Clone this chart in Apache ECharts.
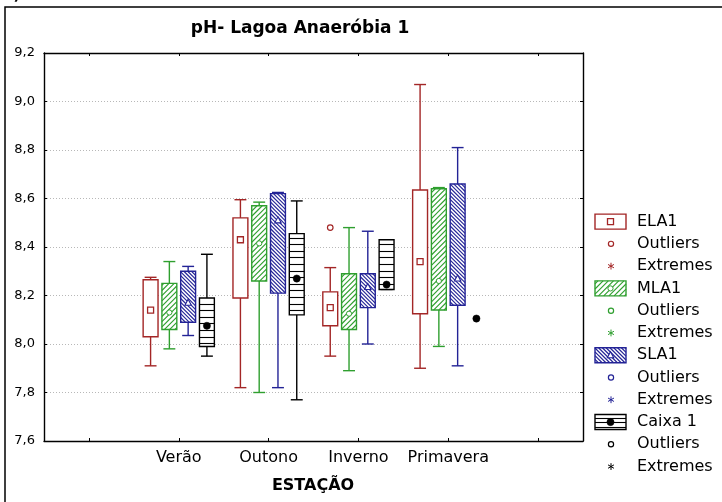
<!DOCTYPE html>
<html>
<head>
<meta charset="utf-8">
<script src="https://cdn.jsdelivr.net/npm/echarts@6/dist/echarts.min.js"></script>
<style>html,body{margin:0;padding:0;background:#fff;}#chart{width:722px;height:502px;}</style>
</head>
<body>
<div id="chart"></div>
<script>
// ---- data ----
const categories = ['', 'Verão', 'Outono', 'Inverno', 'Primavera', ''];
const seriesNames = ['ELA1', 'MLA1', 'SLA1', 'Caixa 1'];
// each row: [min, q1, median, q3, max] per season (Verão, Outono, Inverno, Primavera)
const ela1 = [[7.91, 8.03, 8.14, 8.265, 8.275], [7.82, 8.19, 8.43, 8.52, 8.595], [7.95, 8.075, 8.15, 8.215, 8.315], [7.90, 8.125, 8.34, 8.635, 9.07]];
const mla1 = [[7.98, 8.06, 8.13, 8.25, 8.34], [7.80, 8.26, 8.415, 8.57, 8.585], [7.89, 8.06, 8.125, 8.29, 8.48], [7.99, 8.14, 8.26, 8.64, 8.645]];
const sla1 = [[8.035, 8.09, 8.17, 8.30, 8.32], [7.82, 8.21, 8.51, 8.62, 8.625], [8.0, 8.15, 8.235, 8.29, 8.465], [7.91, 8.16, 8.27, 8.66, 8.81]];
const caixa1 = [[7.95, 7.99, 8.075, 8.19, 8.37], [7.77, 8.12, 8.27, 8.455, 8.59], [8.225, 8.225, 8.245, 8.43, 8.43], [8.105, 8.105, 8.105, 8.105, 8.105]];
// outliers: [season index, value]
const ela1Outliers = [[2, 8.48]];
const yTicks = [7.6, 7.8, 8.0, 8.2, 8.4, 8.6, 8.8, 9.0, 9.2];
const legendLabels = ['ELA1', 'Outliers', 'Extremes', 'MLA1', 'Outliers', 'Extremes', 'SLA1', 'Outliers', 'Extremes', 'Caixa 1', 'Outliers', 'Extremes'];

// ---- styles ----
const colors = ['#a32626', '#2f9f2f', '#232396', '#000000'];
const hatchTypes = ['none', 'fwd', 'back', 'h'];
const hatchSpacing = [0, 5.2, 3.8, 6.6];
const hatchWidth = [0, 1.15, 1.15, 1.1];
const markerTypes = ['square', 'circle', 'triangle', 'dot'];
const FONT = '"DejaVu Sans", sans-serif';

function hatchLines(x0, y0, x1, y1, type, s, color, lw) {
  const out = [];
  const mk = (a, b, c, d) => out.push({type: 'line', shape: {x1: a, y1: b, x2: c, y2: d}, style: {stroke: color, lineWidth: lw}, silent: true});
  if (type === 'h') {
    for (let y = Math.ceil((y0 + 1) / s) * s; y < y1 - 0.5; y += s) mk(x0, Math.round(y) + 0.5, x1, Math.round(y) + 0.5);
  } else if (type === 'fwd') {
    for (let k = Math.ceil((x0 + y0) / s) * s; k < x1 + y1; k += s) {
      const xa = Math.max(x0, k - y1), xb = Math.min(x1, k - y0);
      if (xb - xa > 0.3) mk(xa, k - xa, xb, k - xb);
    }
  } else if (type === 'back') {
    for (let k = Math.ceil((y0 - x1) / s) * s; k < y1 - x0; k += s) {
      const xa = Math.max(x0, y0 - k), xb = Math.min(x1, y1 - k);
      if (xb - xa > 0.3) mk(xa, xa + k, xb, xb + k);
    }
  }
  return out;
}

function marker(type, cx, cy, color) {
  if (type === 'square') return {type: 'rect', shape: {x: cx - 3, y: cy - 3, width: 6, height: 6}, style: {fill: '#fff', stroke: color, lineWidth: 1.3}, z2: 10};
  if (type === 'circle') return {type: 'circle', shape: {cx: cx, cy: cy, r: 2.6}, style: {fill: '#fff', stroke: color, lineWidth: 1}, z2: 10};
  if (type === 'triangle') return {type: 'polygon', shape: {points: [[cx, cy - 3.5], [cx + 3.2, cy + 2.5], [cx - 3.2, cy + 2.5]]}, style: {fill: '#fff', stroke: color, lineWidth: 1.1}, z2: 10};
  return {type: 'circle', shape: {cx: cx, cy: cy, r: 3.6}, style: {fill: color, stroke: color, lineWidth: 0.5}, z2: 10};
}

function seriesOffset(api, idx, n) {
  const bw = api.size([1, 0])[0];
  const avail = bw * 0.8 - 2;
  const gap = avail / n * 0.3;
  const w = (avail - gap * (n - 1)) / n;
  return {off: w / 2 - avail / 2 + idx * (gap + w), w: w * 1.1};
}

function makeBoxRender(idx) {
  return function (params, api) {
    const xi = api.value(0);
    const v = [api.value(1), api.value(2), api.value(3), api.value(4), api.value(5)];
    const o = seriesOffset(api, idx, seriesNames.length);
    const cx = api.coord([xi, v[2]])[0] + o.off;
    const y = v.map(val => api.coord([xi, val])[1]);
    const color = colors[idx];
    const lw = 1.4;
    const half = o.w / 2, cap = o.w * 0.4;
    const ch = [];
    const line = (a, b, c, d) => ch.push({type: 'line', shape: {x1: a, y1: b, x2: c, y2: d}, style: {stroke: color, lineWidth: lw}});
    if (y[0] - y[4] > 0.5) {
      if (y[3] - y[4] > 0.5) { line(cx, y[4], cx, y[3]); }
      line(cx - cap, y[4], cx + cap, y[4]);
      if (y[0] - y[1] > 0.5) { line(cx, y[1], cx, y[0]); }
      line(cx - cap, y[0], cx + cap, y[0]);
    }
    if (y[1] - y[3] > 0.5) {
      const x0 = cx - half, x1 = cx + half;
      ch.push({type: 'rect', shape: {x: x0, y: y[3], width: o.w, height: y[1] - y[3]}, style: {fill: '#fff', stroke: null}});
      hatchLines(x0, y[3], x1, y[1], hatchTypes[idx], hatchSpacing[idx], color, hatchWidth[idx]).forEach(l => ch.push(l));
      ch.push({type: 'rect', shape: {x: x0, y: y[3], width: o.w, height: y[1] - y[3]}, style: {fill: 'none', stroke: color, lineWidth: lw}, z2: 5});
    }
    ch.push(marker(markerTypes[idx], cx, y[2], color));
    return {type: 'group', children: ch};
  };
}

function makeOutlierRender(idx) {
  return function (params, api) {
    const xi = api.value(0);
    const o = seriesOffset(api, idx, seriesNames.length);
    const p = api.coord([xi, api.value(1)]);
    return {type: 'circle', shape: {cx: p[0] + o.off, cy: p[1], r: 2.8}, style: {fill: '#fff', stroke: colors[idx], lineWidth: 1.2}};
  };
}

const allData = [ela1, mla1, sla1, caixa1];
const series = allData.map((arr, idx) => ({
  type: 'custom',
  name: seriesNames[idx],
  xAxisIndex: 0,
  yAxisIndex: 0,
  renderItem: makeBoxRender(idx),
  encode: {x: 0, y: [1, 2, 3, 4, 5]},
  data: arr.map((r, i) => [i + 1].concat(r)),
  clip: false
}));
series.push({
  type: 'custom',
  name: 'ELA1 Outliers',
  renderItem: makeOutlierRender(0),
  encode: {x: 0, y: 1},
  data: ela1Outliers.map(r => [r[0] + 1, r[1]])
});

// ---- legend drawn as graphics ----
const graphics = [];
graphics.push({type: 'rect', shape: {x: 5, y: 7, width: 800, height: 600}, style: {fill: 'none', stroke: '#000', lineWidth: 1.5}, z: -1, silent: true});
graphics.push({type: 'text', x: 4, y: -11, style: {text: 'a)', font: 'bold 14px ' + FONT, fill: '#000'}});
graphics.push({type: 'text', x: 300, y: 29, style: {text: 'pH- Lagoa Anaeróbia 1', font: 'bold 17px ' + FONT, fill: '#000', textAlign: 'center', textVerticalAlign: 'middle'}});
graphics.push({type: 'text', x: 313, y: 486, style: {text: 'ESTAÇÃO', font: 'bold 16px ' + FONT, fill: '#000', textAlign: 'center', textVerticalAlign: 'middle'}});
const legY0 = 221.6, legDy = 22.27, symX = 595, symW = 31, symH = 15, txtX = 637;
legendLabels.forEach((lab, i) => {
  const yy = legY0 + i * legDy;
  const g = Math.floor(i / 3), kind = i % 3, color = colors[g];
  if (kind === 0) {
    graphics.push({type: 'rect', shape: {x: symX, y: yy - symH / 2, width: symW, height: symH}, style: {fill: '#fff', stroke: null}});
    hatchLines(symX, yy - symH / 2, symX + symW, yy + symH / 2, hatchTypes[g], g === 3 ? 4.4 : hatchSpacing[g], color, hatchWidth[g]).forEach(l => graphics.push(l));
    graphics.push({type: 'rect', shape: {x: symX, y: yy - symH / 2, width: symW, height: symH}, style: {fill: 'none', stroke: color, lineWidth: 1.4}});
    graphics.push(marker(markerTypes[g], symX + symW / 2, yy, color));
  } else if (kind === 1) {
    graphics.push({type: 'circle', shape: {cx: 611, cy: yy, r: 2.6}, style: {fill: '#fff', stroke: color, lineWidth: 1.2}});
  } else {
    const r = 3.4;
    [[0, -r, 0, r], [-r * 0.87, -r * 0.5, r * 0.87, r * 0.5], [-r * 0.87, r * 0.5, r * 0.87, -r * 0.5]].forEach(s =>
      graphics.push({type: 'line', shape: {x1: 611 + s[0], y1: yy + s[1], x2: 611 + s[2], y2: yy + s[3]}, style: {stroke: color, lineWidth: 1}}));
  }
  graphics.push({type: 'text', x: txtX, y: yy, style: {text: lab, font: '16px ' + FONT, fill: '#000', textVerticalAlign: 'middle'}});
});

const axisLineStyle = {show: true, lineStyle: {color: '#000', width: 1.4}};
const chart = echarts.init(document.getElementById('chart'), null, {renderer: 'canvas'});
chart.setOption({
  animation: false,
  backgroundColor: '#fff',
  grid: {left: 44, top: 53, right: 139, bottom: 61, containLabel: false, outerBoundsMode: 'none'},
  xAxis: [
    {type: 'category', data: categories, position: 'bottom', boundaryGap: true,
     axisLine: axisLineStyle,
     axisTick: {show: true, inside: true, alignWithLabel: true, length: 3, lineStyle: {color: '#000'}},
     axisLabel: {show: true, color: '#000', fontFamily: FONT, fontSize: 16, margin: 9, interval: 0},
     splitLine: {show: false}},
    {type: 'category', data: categories, position: 'top', boundaryGap: true,
     axisLine: axisLineStyle,
     axisTick: {show: true, inside: true, alignWithLabel: true, length: 3, lineStyle: {color: '#000'}},
     axisLabel: {show: false}, splitLine: {show: false}}
  ],
  yAxis: [
    {type: 'value', min: yTicks[0], max: yTicks[yTicks.length - 1], interval: 0.2, position: 'left',
     axisLine: axisLineStyle,
     axisTick: {show: true, inside: true, length: 3, lineStyle: {color: '#000'}},
     axisLabel: {color: '#000', fontFamily: FONT, fontSize: 13, margin: 9, formatter: v => v.toFixed(1).replace('.', ',')},
     splitLine: {show: true, lineStyle: {color: '#b8b8b8', type: [1, 2], width: 1}}},
    {type: 'value', min: yTicks[0], max: yTicks[yTicks.length - 1], interval: 0.2, position: 'right',
     axisLine: axisLineStyle,
     axisTick: {show: true, inside: true, length: 3, lineStyle: {color: '#000'}},
     axisLabel: {show: false}, splitLine: {show: false}}
  ],
  series: series,
  graphic: graphics
});
</script>
</body>
</html>
